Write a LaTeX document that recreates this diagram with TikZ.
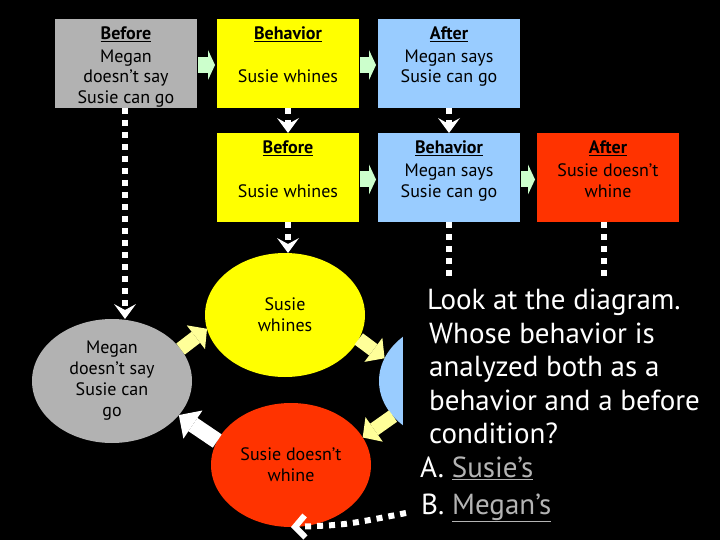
\documentclass[tikz,border=0pt]{standalone}
\usepackage{fontspec}
\setmainfont{PT Sans}
\usetikzlibrary{shapes.geometric,arrows.meta}
\definecolor{cgray}{HTML}{B2B2B2}
\definecolor{cyel}{HTML}{FFFF00}
\definecolor{cblue}{HTML}{99CCFF}
\definecolor{cred}{HTML}{FF3300}
\definecolor{cgreen}{HTML}{CCFFCC}
\definecolor{cpale}{HTML}{FFFF99}
\definecolor{cans}{HTML}{B4B4B4}
\newcommand\bxfont{\fontsize{18}{21}\selectfont}
\newcommand\ttlfont{\bfseries\fontsize{18}{21}\selectfont}
\newcommand\qfont{\fontsize{29}{34}\selectfont}
\begin{document}
\begin{tikzpicture}[x=1pt,y=-1pt,
  box/.style={anchor=north west, minimum width=142pt, minimum height=89pt, inner sep=0pt, outer sep=0pt},
  oval/.style={ellipse, minimum width=160pt, minimum height=124pt, inner sep=0pt, outer sep=0pt, align=center, font=\bxfont, text=black},
  btxt/.style={anchor=base, font=\bxfont, text=black, inner sep=0pt},
  ttxt/.style={anchor=base, font=\ttlfont, text=black, inner sep=0pt},
  qtxt/.style={anchor=base west, font=\qfont, text=white, inner sep=0pt},
  dotln/.style={draw=white, line width=6pt, dash pattern=on 6pt off 6pt},
  dottip/.style={-{Stealth[length=15pt,width=22pt,inset=6pt,line width=0pt]}},
  garr/.style={draw=cgreen, line width=16pt, shorten <=1pt, shorten >=2pt, -{Triangle[length=7pt,width=30pt,line width=0pt]}},
  parr/.style={draw=cpale, line width=14pt, -{Triangle[length=14pt,width=30pt,line width=0pt]}},
  warr/.style={draw=white, line width=16pt, -{Triangle[length=17pt,width=34pt,line width=0pt]}},
]
\fill[black] (0,0) rectangle (720,540);
\useasboundingbox (0,0) rectangle (720,540);

% boxes
\node[box, fill=cgray] (gb) at (55,19) {};
\node[box, fill=cyel] (yb1) at (217,19) {};
\node[box, fill=cblue] (bb1) at (378,19) {};
\node[box, fill=cyel] (yb2) at (217,133) {};
\node[box, fill=cblue] (bb2) at (378,133) {};
\node[box, fill=cred] (rb) at (537,133) {};

% box texts
\node[ttxt] (t1) at (126,40) {\underline{Before}};
\node[btxt] (t2) at (126,63) {Megan};
\node[btxt] (t3) at (126,83) {doesn’t say};
\node[btxt] (t4) at (126,104) {Susie can go};
\node[ttxt] (t5) at (288,40) {\underline{Behavior}};
\node[btxt] (t6) at (288,83) {Susie whines};
\node[ttxt] (t7) at (449,40) {\underline{After}};
\node[btxt] (t8) at (449,63) {Megan says};
\node[btxt] (t9) at (449,83) {Susie can go};
\node[ttxt] (t10) at (288,154) {\underline{Before}};
\node[btxt] (t11) at (288,197) {Susie whines};
\node[ttxt] (t12) at (449,154) {\underline{Behavior}};
\node[btxt] (t13) at (449,177) {Megan says};
\node[btxt] (t14) at (449,197) {Susie can go};
\node[ttxt] (t15) at (608,154) {\underline{After}};
\node[btxt] (t16) at (608,177) {Susie doesn’t};
\node[btxt] (t17) at (608,197) {whine};

% green arrows
\draw[garr] ([yshift=-1.5pt]gb.east) -- ([yshift=-1.5pt]yb1.west);
\draw[garr] ([yshift=-1.5pt]yb1.east) -- ([yshift=-1.5pt]bb1.west);
\draw[garr] ([yshift=-2pt]yb2.east) -- ([yshift=-2pt]bb2.west);
\draw[garr] ([yshift=-2pt]bb2.east) -- ([yshift=-2pt]rb.west);

% ellipses
\node[oval, fill=cgray] (go) at (112,381) {Megan\\doesn’t say\\Susie can\\go};
\node[oval, fill=cyel] (yo) at (285,315) {Susie\\whines};
\node[oval, fill=cblue] (bo) at (459,381) {};
\node[oval, fill=cred] (ro) at (291,465) {Susie doesn’t\\whine};

% dotted connectors
\coordinate (qtop) at (403,281);
\draw[dotln,dottip] ([xshift=-1pt]gb.south) -- ([xshift=-1pt]gb.south |- go.north);
\draw[dotln,dottip] (yb1.south) -- (yb2.north);
\draw[dotln,dottip] (bb1.south) -- (bb2.north);
\draw[dotln,dottip] (yb2.south) -- (yb2.south |- yo.north);
\draw[dotln] (bb2.south) -- (bb2.south |- qtop);
\draw[dotln] ([xshift=-4pt]rb.south) -- ([xshift=-4pt]rb.south |- qtop);

% cycle arrows
\draw[parr] (go.25) -- (yo.190);
\draw[parr] (yo.-18) -- (bo.163);
\draw[parr] (bo.208) -- (ro.21);
\draw[warr] (ro.162) -- (go.-27);

% question box
\node[fill=black, anchor=north west, minimum width=317pt, minimum height=259pt, inner sep=0pt, outer sep=0pt] (qbox) at (qtop) {};
\coordinate (cs) at (406,513);
\draw[dotln, -{Straight Barb[length=10pt,width=22pt]}] (cs) .. controls (345,525) .. (ro.south);

\node[qtxt] (q1) at (427,309) {Look at the diagram.};
\node[qtxt] (q2) at (429,343) {Whose behavior is};
\node[qtxt] (q3) at (429,376) {analyzed both as a};
\node[qtxt] (q4) at (429,410) {behavior and a before};
\node[qtxt] (q5) at (429,443) {condition?};
\node[qtxt] (qa) at (420,477) {A. {\color{cans}\underline{Susie’s}}};
\node[qtxt] (qb) at (421,514) {B. {\color{cans}\underline{Megan’s}}};
\end{tikzpicture}
\end{document}
